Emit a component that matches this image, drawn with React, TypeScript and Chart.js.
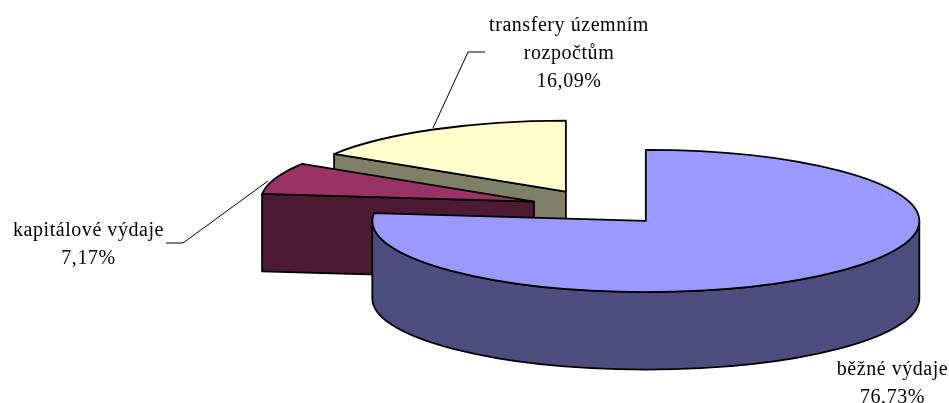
import React, { useEffect, useRef } from "react";
import { Chart, registerables } from "chart.js";

Chart.register(...registerables);

const categories = ["běžné výdaje", "kapitálové výdaje", "transfery územním rozpočtům"];
const values = [76.73, 7.17, 16.09];
const topColors = ["#9999ff", "#993366", "#ffffcc"];
const wallColors = ["#4d4d80", "#4d1933", "#808066"];

const TILT = 0.26;
const DEPTH = 77.5;
const RADIUS = 273.5;
const EXPLODE = 69.4;
const FONT = '20px "Liberation Serif"';

const labelBlocks = [
  { lines: ["transfery územním", "rozpočtům", "16,09%"], x: 569, y: 25.5 },
  { lines: ["kapitálové výdaje", "7,17%"], x: 88.5, y: 230.5 },
  { lines: ["běžné výdaje", "76,73%"], x: 892.5, y: 369.5 },
];
const leaders = [
  [[485, 52], [468, 52], [433, 128]],
  [[166, 243], [183, 243], [268, 181]],
];

const pie3d = {
  id: "pie3d",
  beforeDatasetDraw(chart: any) {
    const ctx: CanvasRenderingContext2D = chart.ctx;
    const arcs = chart.getDatasetMeta(0).data;
    ctx.save();
    ctx.lineWidth = 1.8;
    ctx.lineJoin = "round";
    ctx.strokeStyle = "#000";
    for (let i = arcs.length - 1; i >= 0; i--) {
      const arc = arcs[i];
      const r = arc.outerRadius;
      const s = arc.startAngle;
      const e = arc.endAngle;
      const mid = (s + e) / 2;
      const off = arc.options.offset;
      const cx = arc.x + Math.cos(mid) * off;
      const cy = arc.y + Math.sin(mid) * off * TILT;
      const rim = (a: number) => [cx + Math.cos(a) * r, cy + Math.sin(a) * r * TILT];
      const paint = (fill: string) => {
        ctx.fillStyle = fill;
        ctx.fill();
        ctx.stroke();
      };
      const cutFace = (a: number) => {
        const [x, y] = rim(a);
        ctx.beginPath();
        ctx.moveTo(cx, cy);
        ctx.lineTo(x, y);
        ctx.lineTo(x, y + DEPTH);
        ctx.lineTo(cx, cy + DEPTH);
        ctx.closePath();
        paint(wallColors[i]);
      };
      if (Math.cos(s) < -1e-6) cutFace(s);
      if (Math.cos(e) > 1e-6) cutFace(e);
      // outer wall: the front-facing part of the rim (canvas angles 0..PI)
      const from = Math.max(s, 0);
      const to = Math.min(e, Math.PI);
      if (to > from) {
        ctx.beginPath();
        ctx.ellipse(cx, cy, r, r * TILT, 0, from, to);
        ctx.ellipse(cx, cy + DEPTH, r, r * TILT, 0, to, from, true);
        ctx.closePath();
        paint(wallColors[i]);
      }
      ctx.beginPath();
      ctx.moveTo(cx, cy);
      ctx.ellipse(cx, cy, r, r * TILT, 0, s, e);
      ctx.closePath();
      paint(topColors[i]);
    }
    ctx.restore();
    return false;
  },
  afterDraw(chart: any) {
    const ctx: CanvasRenderingContext2D = chart.ctx;
    ctx.save();
    ctx.strokeStyle = "#000";
    ctx.lineWidth = 1;
    for (const pts of leaders) {
      ctx.beginPath();
      pts.forEach(([x, y], k) => (k ? ctx.lineTo(x, y) : ctx.moveTo(x, y)));
      ctx.stroke();
    }
    ctx.fillStyle = "#000";
    ctx.font = FONT;
    (ctx as any).letterSpacing = "0.55px";
    ctx.textAlign = "center";
    ctx.textBaseline = "middle";
    for (const b of labelBlocks) {
      b.lines.forEach((t, k) => ctx.fillText(t, b.x, b.y + k * 28));
    }
    ctx.restore();
  },
};

export default function App() {
  const ref = useRef<HTMLCanvasElement>(null);
  useEffect(() => {
    document.body.style.margin = "0";
    const chart = new Chart(ref.current!, {
      type: "pie",
      data: {
        labels: categories,
        datasets: [{ data: values, backgroundColor: topColors, borderWidth: 0, offset: EXPLODE }],
      },
      options: {
        animation: false,
        responsive: false,
        radius: RADIUS,
        layout: { padding: { left: 250, top: 12 } },
        plugins: { legend: { display: false }, tooltip: { enabled: false } },
      } as any,
      plugins: [pie3d as any],
    });
    return () => chart.destroy();
  }, []);
  return <canvas ref={ref} width={949} height={403} style={{ display: "block" }} />;
}
